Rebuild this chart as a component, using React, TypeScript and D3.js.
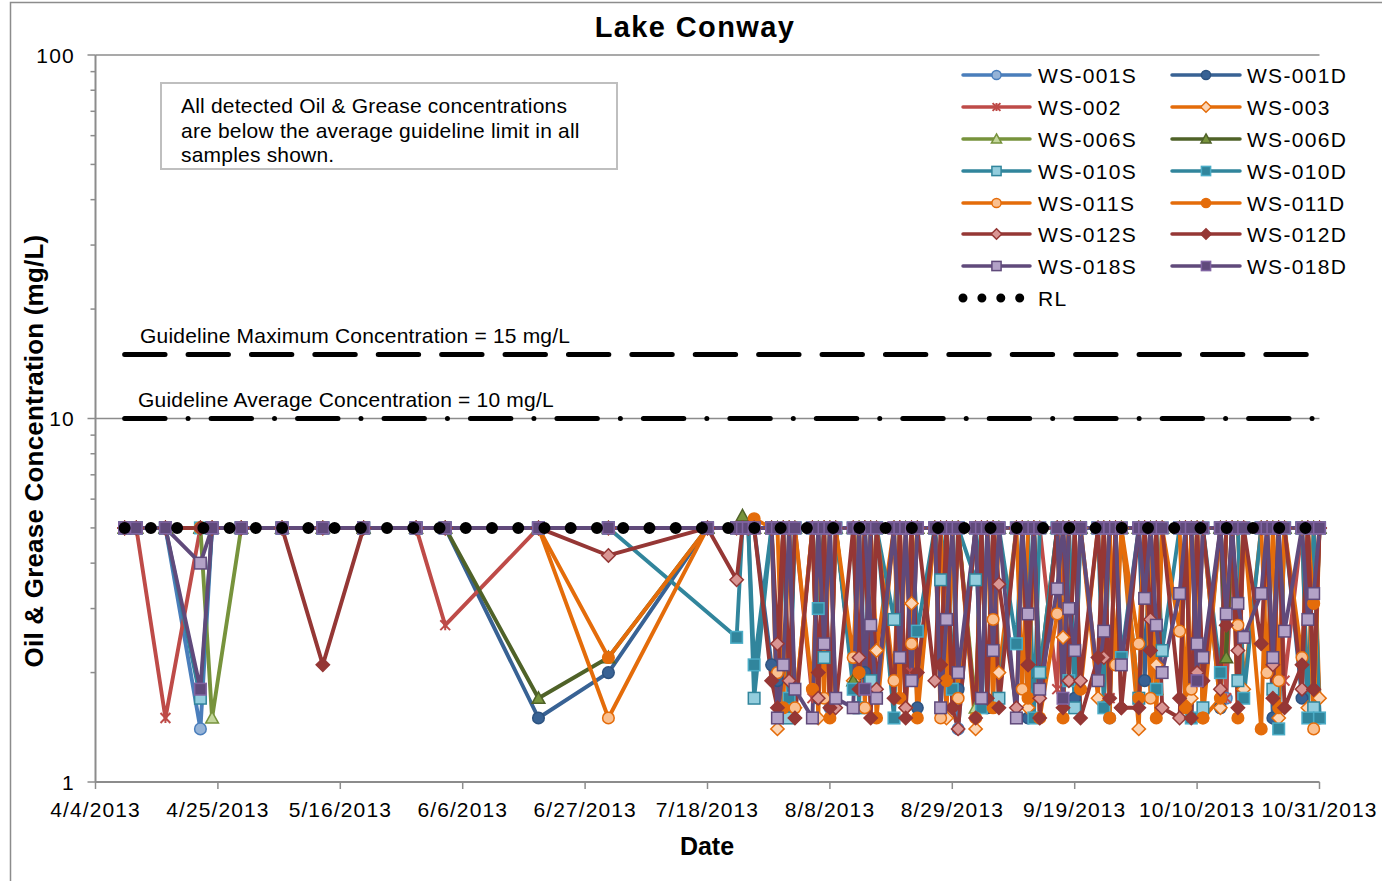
import React from "react";
import * as d3 from "d3";

// ---------- DATA ----------
const earlyDates = [
  "2013-04-09","2013-04-11","2013-04-16","2013-04-22","2013-04-24","2013-04-29",
  "2013-05-06","2013-05-13","2013-05-20","2013-05-29","2013-06-03","2013-06-19",
  "2013-07-01","2013-07-18","2013-07-23","2013-07-24",
];
const denseDates = [
  "2013-07-25","2013-07-26","2013-07-29","2013-07-30","2013-07-31",
  "2013-08-01","2013-08-02","2013-08-05","2013-08-06","2013-08-07","2013-08-08","2013-08-09",
  "2013-08-12","2013-08-13","2013-08-14","2013-08-15","2013-08-16","2013-08-19","2013-08-20",
  "2013-08-21","2013-08-22","2013-08-23","2013-08-26","2013-08-27","2013-08-28","2013-08-29","2013-08-30",
  "2013-09-02","2013-09-03","2013-09-04","2013-09-05","2013-09-06","2013-09-09","2013-09-10",
  "2013-09-11","2013-09-12","2013-09-13","2013-09-16","2013-09-17","2013-09-18","2013-09-19",
  "2013-09-20","2013-09-23","2013-09-24","2013-09-25","2013-09-26","2013-09-27","2013-09-30",
  "2013-10-01","2013-10-02","2013-10-03","2013-10-04","2013-10-07","2013-10-08","2013-10-09",
  "2013-10-10","2013-10-11","2013-10-14","2013-10-15","2013-10-16","2013-10-17","2013-10-18",
  "2013-10-21","2013-10-22","2013-10-23","2013-10-24","2013-10-25","2013-10-28","2013-10-29",
  "2013-10-30","2013-10-31",
];

const ws001S = [
  5,5,5,1.4,5,5,5,5,5,5,5,5,5,5,5,5,
  5,5,5,5,5,5,5,5,5,5,
  1.6,5,5,5,5,5,5,5,5,5,
  5,5,5,5,5,5,1.4,5,5,5,
  5,5,5,5,5,5,5,5,5,5,
  5,5,5,5,1.5,5,5,5,5,5,
  5,5,5,5,5,5,5,5,1.7,5,
  5,5,5,5,5,5,5,5,5,5,
  5,
];
const ws001D = [
  5,5,5,5,5,5,5,5,5,5,5,1.5,2.0,5,5,5,
  5,5,2.1,1.9,5,5,5,5,1.7,5,
  5,5,5,5,2.0,5,5,5,5,5,
  5,1.6,5,5,5,5,1.8,5,5,1.6,
  5,5,5,5,1.5,5,5,5,5,5,
  1.7,5,5,5,5,5,5,5,1.9,5,
  5,5,5,5,1.5,5,5,1.6,5,5,
  5,5,5,5,1.5,5,5,1.7,5,5,
  1.5,
];
const ws002 = [
  5,5,1.5,5,5,5,5,5,5,5,2.7,5,5,5,5,5,
  5,5,5,5,5,5,5,1.7,5,5,
  5,5,5,5,5,5,5,5,5,5,
  2.0,5,5,5,5,5,5,5,5,5,
  5,5,5,5,5,5,5,1.8,5,5,
  5,5,5,5,1.7,5,5,5,5,5,
  5,5,5,5,5,5,5,5,1.7,5,
  5,5,5,5,5,5,1.9,5,5,5,
  5,
];
const ws003 = [
  5,5,5,5,5,5,5,5,5,5,5,5,5,5,5,5,
  5,5,5,1.4,5,5,1.6,5,1.5,5,
  5,5,1.9,5,5,5,2.3,5,5,1.6,
  3.1,5,5,5,1.5,5,5,1.4,5,5,
  5,2.0,5,5,1.6,5,5,5,2.5,5,
  5,5,1.7,5,5,5,5,1.4,5,5,
  2.1,5,5,5,1.7,5,5,1.6,5,5,
  5,1.8,5,5,5,1.5,5,5,1.6,5,
  1.7,
];
const ws006S = [
  5,5,5,5,1.5,5,5,5,5,5,5,5,5,5,5,5,
  5,5,5,5,5,5,5,5,5,5,
  5,5,5,5,5,5,5,5,5,5,
  5,5,5,5,5,5,5,1.6,5,5,
  5,5,5,5,5,5,5,5,5,5,
  5,5,5,5,5,5,5,5,5,5,
  1.8,5,5,5,5,5,5,5,5,5,
  5,5,5,5,5,5,5,5,5,5,
  5,
];
const ws006D = [
  5,5,5,5,5,5,5,5,5,5,5,1.7,2.2,5,5,5.4,
  5,5,5,5,5,5,5,5,5,5,
  5,5,1.9,5,5,5,5,5,5,5,
  5,5,5,5,5,5,5,5,5,5,
  5,5,5,5,5,5,2.0,5,5,5,
  5,5,5,5,5,5,5,5,5,5,
  5,5,5,5,5,5,5,5,2.2,5,
  5,5,5,5,5,5,5,5,5,5,
  5,
];
const ws010S = [
  5,5,5,1.7,5,5,5,5,5,5,5,5,5,5,5,5,
  5,1.7,5,5,5,1.5,5,5,5,2.2,
  5,5,5,1.6,5,1.9,5,2.8,5,5,
  5,5,5,3.6,5,5,5,3.6,5,5,
  5,1.7,5,5,5,5,2.0,5,5,5,
  1.6,5,5,5,5,5,5,1.7,5,5,
  5,2.3,5,5,5,5,1.6,5,5,5,
  1.9,5,5,5,1.8,5,5,5,5,1.6,
  5,
];
const ws010D = [
  5,5,5,5,5,5,5,5,5,5,5,5,5,null,2.5,5,
  5,2.1,5,5,5,1.7,5,5,3.0,5,
  5,5,1.8,5,5,5,5,1.5,5,5,
  5,2.6,5,5,5,1.8,5,5,1.6,5,
  5,5,2.4,5,5,1.5,5,5,5,1.9,
  5,5,5,1.6,5,5,2.2,5,5,5,
  1.8,5,5,5,1.5,5,5,2.0,5,5,
  5,1.7,5,5,5,1.4,5,5,1.5,5,
  1.5,
];
const ws011S = [
  5,5,5,5,5,5,5,5,5,5,5,5,1.5,5,5,5,
  5,5,5,2.0,5,5,1.6,5,5,1.7,
  5,5,2.2,5,1.6,5,5,1.9,5,5,
  2.4,5,5,1.5,5,5,1.7,5,5,5,
  2.8,5,5,1.8,5,5,1.5,2.9,5,5,
  5,5,1.9,5,5,2.1,5,2.4,5,1.7,
  5,5,2.6,5,1.8,5,1.5,5,5,5,
  2.7,5,5,2.0,5,1.9,5,2.2,5,1.4,
  5,
];
const ws011D = [
  5,5,5,5,5,5,5,5,5,5,5,5,2.2,5,5,5,
  5,5.3,5,5,1.6,5,5,1.8,5,5,
  1.5,5,5,2.0,5,5,1.5,5,1.7,5,
  5,1.5,5,5,1.9,5,5,1.5,5,5,
  1.6,5,5,5,1.7,5,5,5,1.5,5,
  5,1.8,5,5,1.5,5,5,1.7,5,5,
  1.5,5,5,1.6,5,5,1.5,1.7,5,5,
  1.5,5,1.4,5,5,1.6,5,5,5,3.1,
  5,
];
const ws012S = [
  5,5,5,5,5,5,5,5,5,5,5,5,4.2,5,3.6,5,
  5,5,5,2.4,5,1.9,5,5,1.7,5,
  5,1.6,5,2.2,5,5,1.8,5,5,1.6,
  5,5,1.9,5,5,1.6,1.4,5,5,5,
  5,3.5,1.6,5,2.1,5,1.7,5,5,1.9,
  5,1.9,5,2.2,5,5,1.6,5,5,2.8,
  5,1.6,1.5,5,5,2.0,5,1.8,5,5,
  2.3,5,5,5,2.1,5,5,1.8,5,1.8,
  5,
];
const ws012D = [
  5,5,5,5,5,5,5,2.1,5,5,5,5,5,5,5,5,
  5,5,1.9,1.6,5,5,1.5,5,2.0,5,
  1.6,5,5,1.8,5,1.5,5,1.7,5,1.5,
  5,2.0,5,2.1,5,1.6,5,1.5,5,1.7,
  5,1.6,5,5,2.1,5,1.5,5,1.6,5,
  5,1.5,2.2,5,1.7,5,1.6,1.6,5,2.3,
  5,5,1.7,5,1.5,5,1.9,5,2.7,5,
  1.6,5,2.4,5,1.7,5,1.6,2.1,5,1.8,
  5,
];
const ws018S = [
  5,5,5,4.0,5,5,5,5,5,5,5,5,5,5,5,5,
  5,5,5,1.5,2.1,5,1.8,1.5,5,2.4,
  5,1.7,1.6,5,5,2.7,1.7,5,2.2,5,
  1.9,5,5,1.6,2.8,5,2.0,5,1.7,5,
  2.3,5,1.5,5,2.9,5,1.8,3.4,5,3.0,
  2.3,5,1.9,2.6,5,5,2.1,5,3.2,5,
  2.7,2.0,3.3,5,5,2.4,2.2,5,2.9,5,
  3.1,2.5,3.3,5,2.2,5,2.6,5,2.8,3.3,
  5,
];
const ws018D = [
  5,5,5,1.8,5,5,5,5,5,5,5,5,5,5,5,5,
  5,5,5,5,5,5,5,5,5,5,
  5,5,5,5,1.8,5,5,5,5,5,
  5,5,5,5,5,5,5,5,5,5,
  5,5,5,5,5,5,5,5,1.7,5,
  5,5,5,5,5,5,5,5,5,5,
  5,5,5,5,5,1.9,5,5,5,5,
  5,5,5,5,5,5,5,5,5,5,
  5,
];

const rlDates = ["2013-04-09", "2013-10-31"];
const rlValues = [5, 5];
const guideDates = ["2013-04-09", "2013-10-31"];
const guideMax = [15, 15];
const guideAvg = [10, 10];

const xTickStep = 21; // days
const yMajorTicks = [1, 10, 100];
const seriesNames = [
  "WS-001S","WS-001D","WS-002","WS-003","WS-006S","WS-006D","WS-010S",
  "WS-010D","WS-011S","WS-011D","WS-012S","WS-012D","WS-018S","WS-018D",
];
const seriesValues = [
  ws001S, ws001D, ws002, ws003, ws006S, ws006D, ws010S,
  ws010D, ws011S, ws011D, ws012S, ws012D, ws018S, ws018D,
];

// ---------- STYLES ----------
type Mk = "circle" | "square" | "diamond" | "triangle" | "star";
const styles: { line: string; fill: string; stroke: string; mk: Mk }[] = [
  { line: "#4A7EBB", fill: "#95B3D7", stroke: "#4A7EBB", mk: "circle" },
  { line: "#386294", fill: "#386294", stroke: "#2D5380", mk: "circle" },
  { line: "#BE4B48", fill: "none", stroke: "#BE4B48", mk: "star" },
  { line: "#E46C0A", fill: "#FCD5B5", stroke: "#E46C0A", mk: "diamond" },
  { line: "#77933C", fill: "#C3D69B", stroke: "#77933C", mk: "triangle" },
  { line: "#4F6228", fill: "#77933C", stroke: "#4F6228", mk: "triangle" },
  { line: "#31859C", fill: "#93CDDD", stroke: "#31859C", mk: "square" },
  { line: "#31859C", fill: "#31859C", stroke: "#4BACC6", mk: "square" },
  { line: "#E46C0A", fill: "#FAC090", stroke: "#E46C0A", mk: "circle" },
  { line: "#E46C0A", fill: "#E46C0A", stroke: "#E46C0A", mk: "circle" },
  { line: "#953735", fill: "#D99694", stroke: "#953735", mk: "diamond" },
  { line: "#953735", fill: "#953735", stroke: "#953735", mk: "diamond" },
  { line: "#604A7B", fill: "#B3A2C7", stroke: "#604A7B", mk: "square" },
  { line: "#604A7B", fill: "#604A7B", stroke: "#8064A2", mk: "square" },
];

const FONT = "'Liberation Sans', Arial, Helvetica, sans-serif";

function marker(mk: Mk, cx: number, cy: number, s: number, fill: string, stroke: string, key?: string) {
  const sw = 1.5;
  switch (mk) {
    case "circle":
      return <circle key={key} cx={cx} cy={cy} r={s} fill={fill} stroke={stroke} strokeWidth={sw} />;
    case "square":
      return <rect key={key} x={cx - s} y={cy - s} width={2 * s} height={2 * s} fill={fill} stroke={stroke} strokeWidth={sw} />;
    case "diamond": {
      const r = s * 1.15;
      return <path key={key} d={`M${cx},${cy - r}L${cx + r},${cy}L${cx},${cy + r}L${cx - r},${cy}Z`} fill={fill} stroke={stroke} strokeWidth={sw} />;
    }
    case "triangle": {
      const r = s * 1.1;
      return <path key={key} d={`M${cx},${cy - r}L${cx + r},${cy + r * 0.8}L${cx - r},${cy + r * 0.8}Z`} fill={fill} stroke={stroke} strokeWidth={sw} />;
    }
    case "star": {
      const r = s * 0.85;
      return (
        <path key={key}
          d={`M${cx - r},${cy - r}L${cx + r},${cy + r}M${cx - r},${cy + r}L${cx + r},${cy - r}M${cx},${cy - r}L${cx},${cy + r}`}
          fill="none" stroke={stroke} strokeWidth={2} />
      );
    }
  }
}

export default function App() {
  const W = 1382, H = 881;
  const L = 95.5, R = 1319.5, T = 55, B = 782;
  const parse = d3.timeParse("%Y-%m-%d");
  const dates = [...earlyDates, ...denseDates].map((s) => parse(s) as Date);
  const start = new Date(2013, 3, 4);
  const end = new Date(2013, 9, 31);
  const x = d3.scaleTime().domain([start, end]).range([L, R]);
  const y = d3.scaleLog().domain([1, 100]).range([B, T]);

  const xTicks = d3.range(0, d3.timeDay.count(start, end) + 1, xTickStep).map((k) => d3.timeDay.offset(start, k));
  const fmt = d3.timeFormat("%-m/%-d/%Y");
  const minorTicks: number[] = [];
  [1, 10].forEach((dec) => d3.range(2, 10).forEach((m) => minorTicks.push(m * dec)));

  type P = { d: Date; v: number };
  const line = d3.line<P>().x((p) => x(p.d)).y((p) => y(p.v));
  const pts = seriesValues.map((vals) =>
    vals.map((v, i) => ({ d: dates[i], v })).filter((p) => p.v !== null && p.v !== undefined) as P[]
  );
  const simple = (ds: string[], vs: number[]) => line(ds.map((s, i) => ({ d: parse(s) as Date, v: vs[i] })))!;

  const legendRows = [75, 107, 139, 171, 203, 234, 266];
  const legendCols = [{ x0: 963, x1: 1030, tx: 1038 }, { x0: 1172, x1: 1240, tx: 1247 }];

  return (
    <svg width={W} height={H} style={{ position: "absolute", left: 0, top: 0, background: "#fff" }} fontFamily={FONT}>
      <rect x={0} y={0} width={W} height={H} fill="#fff" />
      {/* chart border */}
      <rect x={10.5} y={2.5} width={1500} height={1000} fill="none" stroke="#8c8c8c" strokeWidth={1.5} />

      {/* title */}
      <text x={695} y={37} textAnchor="middle" fontSize={29} fontWeight="bold" letterSpacing={1.4}>Lake Conway</text>

      {/* gridlines */}
      {[10, 100].map((g) => (
        <line key={g} x1={L} x2={R} y1={y(g)} y2={y(g)} stroke="#8c8c8c" strokeWidth={1.5} />
      ))}

      {/* axes */}
      <line x1={L} x2={L} y1={T} y2={B} stroke="#8c8c8c" strokeWidth={2} />
      <line x1={L} x2={R} y1={B} y2={B} stroke="#8c8c8c" strokeWidth={2} />
      {yMajorTicks.map((t) => (
        <g key={t}>
          <line x1={L - 8} x2={L} y1={y(t)} y2={y(t)} stroke="#8c8c8c" strokeWidth={1.5} />
          <text x={75} y={y(t) + 7.5} textAnchor="end" fontSize={21} letterSpacing={1.2}>{t}</text>
        </g>
      ))}
      {minorTicks.map((t) => (
        <line key={"m" + t} x1={L - 5} x2={L} y1={y(t)} y2={y(t)} stroke="#8c8c8c" strokeWidth={1.5} />
      ))}
      {xTicks.map((t, i) => (
        <g key={i}>
          <line x1={x(t)} x2={x(t)} y1={B} y2={B + 7} stroke="#8c8c8c" strokeWidth={1.5} />
          <text x={x(t)} y={817} textAnchor="middle" fontSize={21} letterSpacing={1.1}>{fmt(t)}</text>
        </g>
      ))}

      {/* axis titles */}
      <text x={707} y={855} textAnchor="middle" fontSize={25} fontWeight="bold">Date</text>
      <text transform="translate(43,451) rotate(-90)" textAnchor="middle" fontSize={26} fontWeight="bold" letterSpacing={0.2}>
        Oil &amp; Grease Concentration (mg/L)
      </text>

      {/* guideline lines */}
      <path d={simple(guideDates, guideMax)} fill="none" stroke="#000" strokeWidth={5} strokeLinecap="round" strokeDasharray="40.4 23" />
      <path d={simple(guideDates, guideAvg)} fill="none" stroke="#000" strokeWidth={5} strokeLinecap="round" strokeDasharray="40.4 23.03 0 23.03" />
      <text x={140} y={343} fontSize={21} letterSpacing={0.2}>Guideline Maximum Concentration = 15 mg/L</text>
      <text x={138} y={407} fontSize={21} letterSpacing={0.2}>Guideline Average Concentration = 10 mg/L</text>

      {/* series lines */}
      {pts.map((p, i) => (
        <path key={"l" + i} d={line(p)!} fill="none" stroke={styles[i].line} strokeWidth={3.9} strokeLinejoin="round" />
      ))}
      {/* markers */}
      {pts.map((p, i) => (
        <g key={"g" + i}>
          {p.map((q, j) => marker(styles[i].mk, x(q.d), y(q.v), 5.8, styles[i].fill, styles[i].stroke, i + "-" + j))}
        </g>
      ))}
      {/* RL */}
      <path d={simple(rlDates, rlValues)} fill="none" stroke="#000" strokeWidth={12} strokeLinecap="round" strokeDasharray="0 26.24" />

      {/* annotation box */}
      <rect x={161} y={83} width={456} height={86} fill="#fff" stroke="#bfbfbf" strokeWidth={2} />
      <text fontSize={21} letterSpacing={0.2}>
        <tspan x={181} y={113}>All detected Oil &amp; Grease concentrations</tspan>
        <tspan x={181} y={137.5}>are below the average guideline limit in all</tspan>
        <tspan x={181} y={162}>samples shown.</tspan>
      </text>

      {/* legend */}
      {seriesNames.map((n, i) => {
        const col = legendCols[i % 2];
        const yy = legendRows[Math.floor(i / 2)];
        const st = styles[i];
        return (
          <g key={"lg" + i}>
            <line x1={col.x0} x2={col.x1} y1={yy} y2={yy} stroke={st.line} strokeWidth={3.5} strokeLinecap="round" />
            {marker(st.mk, (col.x0 + col.x1) / 2, yy, 4.6, st.fill, st.stroke)}
            <text x={col.tx} y={yy + 7.5} fontSize={21} letterSpacing={1.3}>{n}</text>
          </g>
        );
      })}
      <line x1={963} x2={1020} y1={298} y2={298} stroke="#000" strokeWidth={9} strokeLinecap="round" strokeDasharray="0 18.9" />
      <text x={1038} y={305.5} fontSize={21} letterSpacing={1.3}>RL</text>
    </svg>
  );
}
